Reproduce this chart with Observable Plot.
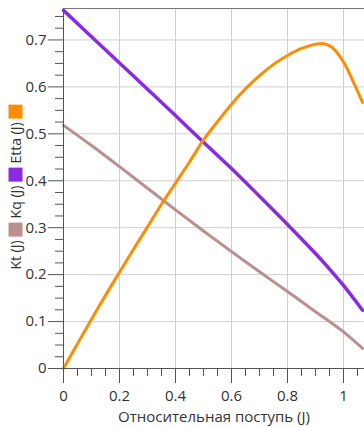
<!DOCTYPE html>
<html>
<head>
<meta charset="utf-8">
<script src="https://cdn.jsdelivr.net/npm/d3@7"></script>
<script src="https://cdn.jsdelivr.net/npm/@observablehq/plot@0.6"></script>
<style>
  html, body { margin: 0; padding: 0; background: #fff; }
  #wrap { position: relative; width: 364px; height: 427px; font-family: "Open Sans", "Noto Sans", sans-serif; }
  #legend { position: absolute; left: 15px; top: 187px; transform: translate(-50%, -50%) rotate(-90deg);
            display: flex; align-items: center; gap: 4px; white-space: nowrap; font-size: 14px; color: #333; }
  #legend .sq { display: inline-block; width: 14px; height: 14px; }
</style>
</head>
<body>
<div id="wrap"></div>
<script>
// Data
const jEtta = [0, 0.05, 0.1, 0.15, 0.2, 0.25, 0.3, 0.35, 0.4, 0.45, 0.5, 0.55, 0.6, 0.65, 0.7, 0.75, 0.8, 0.85, 0.9, 0.93, 0.96, 1.0, 1.03, 1.068];
const etta  = [0, 0.053, 0.105, 0.156, 0.205, 0.254, 0.302, 0.350, 0.395, 0.440, 0.487, 0.526, 0.563, 0.596, 0.624, 0.648, 0.667, 0.682, 0.691, 0.692, 0.684, 0.653, 0.617, 0.567];
const jK    = [0, 0.1, 0.2, 0.3, 0.4, 0.5, 0.6, 0.7, 0.8, 0.9, 0.95, 1.0, 1.068];
const kq    = [0.763, 0.707, 0.651, 0.595, 0.539, 0.482, 0.426, 0.367, 0.307, 0.245, 0.212, 0.177, 0.124];
const kt    = [0.518, 0.475, 0.430, 0.384, 0.338, 0.293, 0.249, 0.206, 0.164, 0.121, 0.100, 0.078, 0.043];

const seriesNames = ["Kt (J)", "Kq (J)", "Etta (J)"];
const seriesColors = ["#BC8F8F", "#8A2BE2", "#FF8C00"];
const xTitle = "Относительная поступь (J)";

const xMajor = [0, 0.2, 0.4, 0.6, 0.8, 1];
const xMinor = d3.range(0, 1.0751, 0.05).filter(v => Math.abs(v / 0.2 - Math.round(v / 0.2)) > 1e-6);
const yMajor = [0, 0.1, 0.2, 0.3, 0.4, 0.5, 0.6, 0.7];
const yMinor = d3.range(0, 0.7651, 0.025).filter(v => Math.abs(v / 0.1 - Math.round(v / 0.1)) > 1e-6);

const fmt = d => String(+d.toFixed(1));

const ettaData = jEtta.map((j, i) => ({j, v: etta[i]}));
const kqData = jK.map((j, i) => ({j, v: kq[i]}));
const ktData = jK.map((j, i) => ({j, v: kt[i]}));

const chart = Plot.plot({
  width: 364,
  height: 427,
  marginTop: 8,
  marginLeft: 63,
  marginRight: 0,
  marginBottom: 59,
  style: {fontFamily: '"Open Sans", "Noto Sans", sans-serif', fontSize: "15px", color: "#333", background: "#fff"},
  x: {domain: [0, 1.075]},
  y: {domain: [0, 0.767]},
  marks: [
    Plot.gridX(xMajor, {stroke: "#cfcfcf", strokeOpacity: 1}),
    Plot.gridY(yMajor, {stroke: "#cfcfcf", strokeOpacity: 1}),
    Plot.frame({anchor: "top", stroke: "#777"}),
    Plot.line(ktData, {x: "j", y: "v", stroke: seriesColors[0], strokeWidth: 3, curve: "catmull-rom"}),
    Plot.line(kqData, {x: "j", y: "v", stroke: seriesColors[1], strokeWidth: 3.5, curve: "catmull-rom"}),
    Plot.line(ettaData, {x: "j", y: "v", stroke: seriesColors[2], strokeWidth: 3, curve: "catmull-rom"}),
    Plot.ruleX([0], {stroke: "#555"}),
    Plot.ruleY([0], {stroke: "#555"}),
    Plot.axisX({ticks: xMajor, tickSize: 15, tickPadding: 7, tickFormat: fmt, label: null, stroke: "#555"}),
    Plot.axisX({ticks: xMinor, tickSize: 8, tickFormat: () => "", label: null, stroke: "#555"}),
    Plot.axisY({ticks: yMajor, tickSize: 15, tickPadding: 2, tickFormat: fmt, label: null, stroke: "#555"}),
    Plot.axisY({ticks: yMinor, tickSize: 8, tickFormat: () => "", label: null, stroke: "#555"}),
    Plot.text([xTitle], {frameAnchor: "bottom", lineAnchor: "middle", dy: 49, fill: "#333"})
  ]
});

const wrap = document.getElementById("wrap");
wrap.appendChild(chart);

const legend = document.createElement("div");
legend.id = "legend";
seriesNames.forEach((name, i) => {
  const t = document.createElement("span");
  t.textContent = name;
  const s = document.createElement("span");
  s.className = "sq";
  s.style.background = seriesColors[i];
  legend.appendChild(t);
  legend.appendChild(s);
});
wrap.appendChild(legend);
</script>
</body>
</html>
